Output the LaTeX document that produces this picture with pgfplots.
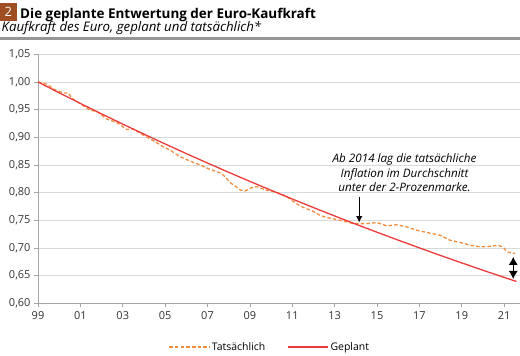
\documentclass[border=0pt]{standalone}
\usepackage{fontspec}
\setmainfont{Open Sans}
\usepackage{pgfplots}
\pgfplotsset{compat=1.18}
\usetikzlibrary{arrows.meta}
\definecolor{ubsorange}{RGB}{242,140,60}
\definecolor{ubsred}{RGB}{236,58,58}
\definecolor{boxbrown}{RGB}{158,78,32}
\definecolor{rulegray}{RGB}{150,150,150}
\begin{document}
\begin{tikzpicture}[x=1bp,y=1bp]
\useasboundingbox (0,0) rectangle (520,355);
% header
\fill[boxbrown] (0,355-3) rectangle (16.5,355-21);
\node[text=white, font=\fontsize{13}{14}\selectfont, anchor=center] at (8.3,355-12.3) {2};
\node[anchor=base west, inner sep=0pt, font=\fontsize{13.5}{15}\selectfont\bfseries] at (20,355-18.3) {Die geplante Entwertung der Euro-Kaufkraft};
\node[anchor=base west, inner sep=0pt, font=\fontsize{13.3}{15}\selectfont\itshape] at (1.5,355-31.5) {Kaufkraft des Euro, geplant und tatsächlich*};
\fill[rulegray] (0,355-36.5) rectangle (520,355-39.5);
\begin{axis}[
  at={(38bp,51.7bp)}, anchor=south west,
  scale only axis, width=482bp, height=249bp,
  xmin=0, xmax=22.75, ymin=0.6, ymax=1.05,
  axis lines*=left,
  axis line style={draw=gray!70, line width=0.7pt},
  xtick={0,2,...,22},
  xticklabels={99,01,03,05,07,09,11,13,15,17,19,21},
  ytick={0.60,0.65,0.70,0.75,0.80,0.85,0.90,0.95,1.00,1.05},
  ymajorgrids,
  grid style={gray!30, line width=0.7pt},
  tick style={gray!70, line width=0.7pt},
  tick align=outside, major tick length=4bp,
  yticklabel style={/pgf/number format/.cd, fixed, fixed zerofill, precision=2, use comma},
  /pgf/number format/assume math mode=true,
  tick label style={font=\fontsize{11}{12}\selectfont, text=black!80},
  xticklabel style={yshift=-1bp},
  clip=false,
  legend style={at={(0.481,-0.175)}, anchor=center, draw=none, fill=none,
    legend columns=2, font=\fontsize{10.5}{12}\selectfont,
    /tikz/every even column/.append style={column sep=20bp}},
  legend image code/.code={\draw[#1] (0bp,0bp) -- (40bp,0bp);},
]
\addplot[ubsorange, line width=1.3pt, dash pattern=on 3.5pt off 2.2pt] coordinates {
(0,1.000) (0.41,0.996) (0.8,0.986) (1.2,0.980) (1.43,0.980) (1.59,0.971)
(1.98,0.961) (2.3,0.953) (2.44,0.949) (2.77,0.947) (3.24,0.933) (3.71,0.927)
(4.19,0.914) (4.5,0.915) (4.97,0.904) (5.44,0.894) (5.91,0.883) (6.23,0.877)
(6.7,0.865) (7.18,0.857) (7.65,0.850) (8.12,0.842) (8.59,0.836) (8.83,0.829)
(9.07,0.818) (9.3,0.812) (9.54,0.805) (9.77,0.803) (10.01,0.808) (10.32,0.811)
(10.72,0.805) (11.11,0.802) (11.43,0.798) (11.74,0.793) (12.05,0.784) (12.37,0.776)
(12.6,0.772) (13.0,0.766) (13.31,0.759) (13.63,0.755) (14.26,0.750) (14.89,0.744)
(15.52,0.744) (15.99,0.746) (16.46,0.740) (16.94,0.742) (17.41,0.738) (17.88,0.732)
(18.35,0.728) (18.98,0.723) (19.45,0.714) (19.92,0.710) (20.4,0.705) (20.87,0.702)
(21.34,0.703) (21.73,0.705) (21.97,0.701) (22.13,0.693) (22.52,0.690)
};
\addlegendentry{Tatsächlich}
\addplot[ubsred, line width=1.3pt] coordinates {
(0,1.00000) (1,0.98039) (2,0.96117) (3,0.94232) (4,0.92385) (5,0.90573)
(6,0.88797) (7,0.87056) (8,0.85349) (9,0.83676) (10,0.82035) (11,0.80426)
(12,0.78849) (13,0.77303) (14,0.75788) (15,0.74301) (16,0.72845) (17,0.71416)
(18,0.70016) (19,0.68643) (20,0.67297) (21,0.65978) (22,0.64684) (22.58,0.63945)
};
\addlegendentry{Geplant}
\node[font=\fontsize{11.7}{14.5}\selectfont\itshape, align=center, inner sep=0pt] at (axis cs:17.3,0.836)
  {Ab 2014 lag die tatsächliche\\ Inflation im Durchschnitt\\ unter der 2-Prozenmarke.};
\draw[-{Latex[length=6.5bp,width=6.5bp]}, line width=0.9pt] (axis cs:15.16,0.793) -- (axis cs:15.16,0.746);
\draw[{Latex[length=8bp,width=9bp]}-{Latex[length=8bp,width=9bp]}, line width=1pt] (axis cs:22.43,0.684) -- (axis cs:22.43,0.644);
\end{axis}
\end{tikzpicture}
\end{document}
